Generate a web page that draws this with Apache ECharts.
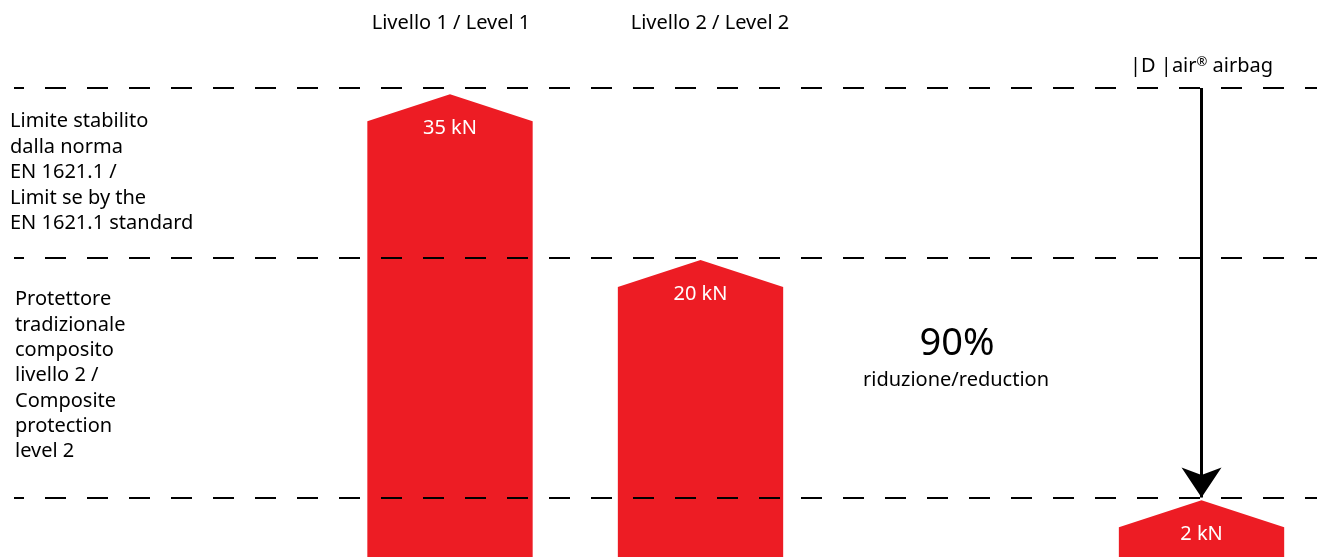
<!DOCTYPE html>
<html>
<head>
<meta charset="utf-8">
<title>Livello 1 / Livello 2 / D-air airbag</title>
<script src="https://cdn.jsdelivr.net/npm/echarts@6/dist/echarts.min.js"></script>
<style>
  html, body { margin: 0; padding: 0; background: #fff; }
  #main { width: 1317px; height: 557px; }
</style>
</head>
<body>
<div id="main"></div>
<script>
// columns (level headers) and their slot on the x axis
var categories = ['Livello 1 / Level 1', 'Livello 2 / Level 2', '|D |air® airbag'];
var slots = [0, 1, 3];
// transmitted force, kN (label values)
var forceKN = [35, 20, 2];
// drawn height of each bar tip (the picture is not to scale)
var barPeak = [83.1, 53.3, 10.2];
// dashed reference levels: EN 1621.1 limit, level 2 protector, airbag
var limitLevels = [84.2, 53.8, 10.7];
var limitNotes = [
  'Limite stabilito\ndalla norma\nEN 1621.1 /\nLimit se by the\nEN 1621.1 standard',
  'Protettore\ntradizionale\ncomposito\nlivello 2 /\nComposite\nprotection\nlevel 2'
];
var reduction = ['90%', 'riduzione/reduction'];

var RED = '#ED1C24';
var FONT = '"Noto Sans", sans-serif';
var barSpan = 0.66;   // bar width in slot units
var roof = 27;        // px from tip to shoulder

function renderHouse(params, api) {
  var x = api.value(0);
  var tip = api.coord([x, api.value(1)]);
  var base = api.coord([x, 0]);
  var half = api.size([barSpan, 0])[0] / 2;
  return {
    type: 'group',
    children: [
      {
        type: 'polygon',
        shape: {
          points: [
            [tip[0] - half, base[1]],
            [tip[0] - half, tip[1] + roof],
            [tip[0], tip[1]],
            [tip[0] + half, tip[1] + roof],
            [tip[0] + half, base[1]]
          ]
        },
        style: { fill: RED }
      },
      {
        type: 'text',
        x: tip[0],
        y: tip[1] + 34,
        style: {
          text: forceKN[params.dataIndex] + ' kN',
          fill: '#fff',
          fontSize: 20,
          fontFamily: FONT,
          align: 'center',
          verticalAlign: 'middle'
        }
      }
    ]
  };
}

// put the registered mark as a small superscript
function airbagLabel() {
  return categories[2].replace('®', '{sup|®}');
}

var chart = echarts.init(document.getElementById('main'), null, { renderer: 'canvas' });

var option = {
  animation: false,
  grid: { left: 14, right: 0, top: 0, bottom: 0 },
  xAxis: {
    type: 'value',
    min: -1.7405,
    max: 3.461,
    show: false
  },
  yAxis: {
    type: 'value',
    min: 0,
    max: 100,
    show: false
  },
  graphic: [
    { type: 'text', x: 451, y: 23, style: { text: categories[0], fill: '#000', fontSize: 20, fontFamily: FONT, align: 'center', verticalAlign: 'middle' } },
    { type: 'text', x: 710, y: 23, style: { text: categories[1], fill: '#000', fontSize: 20, fontFamily: FONT, align: 'center', verticalAlign: 'middle' } },
    { type: 'text', x: 10, y: 109, style: { text: limitNotes[0], fill: '#000', fontSize: 20, fontFamily: FONT, lineHeight: 25.4, verticalAlign: 'top' } },
    { type: 'text', x: 15, y: 287, style: { text: limitNotes[1], fill: '#000', fontSize: 20, fontFamily: FONT, lineHeight: 25.3, verticalAlign: 'top' } },
    { type: 'text', x: 957, y: 344, style: { text: reduction[0], fill: '#000', fontSize: 38, fontFamily: FONT, align: 'center', verticalAlign: 'middle' } },
    { type: 'text', x: 956, y: 380, style: { text: reduction[1], fill: '#000', fontSize: 20, fontFamily: FONT, align: 'center', verticalAlign: 'middle' } }
  ],
  series: [
    {
      type: 'custom',
      name: 'force',
      renderItem: renderHouse,
      encode: { x: 0, y: 1 },
      data: slots.map(function (s, i) { return [s, barPeak[i]]; }),
      z: 2
    },
    {
      type: 'line',
      name: 'levels',
      data: [],
      markLine: {
        silent: true,
        symbol: 'none',
        z: 5,
        label: { show: false },
        lineStyle: { color: '#000', width: 2, type: [21, 21], dashOffset: 11 },
        emphasis: { disabled: true },
        data: limitLevels.map(function (v) { return { yAxis: v }; })
      }
    },
    {
      type: 'line',
      name: 'airbag',
      data: [],
      markLine: {
        silent: true,
        symbol: ['none', 'arrow'],
        symbolSize: 30,
        z: 6,
        lineStyle: { color: '#000', width: 3, type: 'solid' },
        emphasis: { disabled: true },
        label: {
          show: true,
          position: 'start',
          distance: 12,
          formatter: airbagLabel,
          color: '#000',
          fontSize: 20,
          fontFamily: FONT,
          rich: {
            sup: { fontSize: 13, fontFamily: FONT, color: '#000', verticalAlign: 'top', padding: [0, 0, 6, 0] }
          }
        },
        data: [[
          { coord: [slots[2], limitLevels[0]] },
          { coord: [slots[2], limitLevels[2]] }
        ]]
      }
    }
  ]
};

chart.setOption(option);
</script>
</body>
</html>
